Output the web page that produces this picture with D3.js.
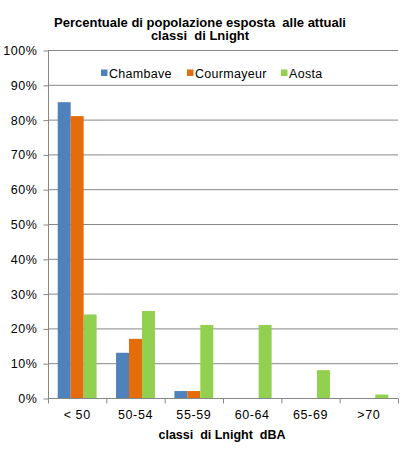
<!DOCTYPE html>
<html>
<head>
<meta charset="utf-8">
<script src="https://cdn.jsdelivr.net/npm/d3@7"></script>
<style>
  body { margin: 0; background: #fff; }
  text { font-family: Arial, "Liberation Sans", sans-serif; }
</style>
</head>
<body>
<div id="chart"></div>
<script>
let categories = ["< 50", "50-54", "55-59", "60-64", "65-69", ">70"];
let seriesNames = ["Chambave", "Courmayeur", "Aosta"];
let chambave = [85, 13, 2, 0, 0, 0];
let courmayeur = [81, 17, 2, 0, 0, 0];
let aosta = [24, 25, 21, 21, 8, 1];
let yTicks = [0, 10, 20, 30, 40, 50, 60, 70, 80, 90, 100];
let colors = ["#4F81BD", "#E46C0A", "#92D050"];

let width = 401,
  height = 459,
  plotLeft = 48,
  plotRight = 398,
  plotTop = 50,
  plotBottom = 398;

let seriesValues = [chambave, courmayeur, aosta];

let svg = d3
  .select("#chart")
  .append("svg")
  .attr("width", width)
  .attr("height", height);

let xScale = d3.scaleBand().domain(categories).range([plotLeft, plotRight]).paddingInner(0).paddingOuter(0);
let inner = d3
  .scaleBand()
  .domain(seriesNames)
  .range([0, xScale.bandwidth()])
  .paddingOuter(0.75)
  .paddingInner(0);

let yScale = d3.scaleLinear().domain([0, 100]).range([plotBottom, plotTop]);

// gridlines
svg
  .append("g")
  .selectAll("line")
  .data(yTicks.slice(1))
  .enter()
  .append("line")
  .attr("x1", plotLeft)
  .attr("x2", plotRight)
  .attr("y1", (d) => yScale(d) + 0.5)
  .attr("y2", (d) => yScale(d) + 0.5)
  .attr("stroke", "#878787")
  .attr("stroke-width", 1);

// bars
seriesValues.forEach((vals, s) => {
  svg
    .append("g")
    .selectAll("rect")
    .data(vals)
    .enter()
    .append("rect")
    .attr("x", (d, i) => xScale(categories[i]) + inner(seriesNames[s]))
    .attr("y", (d) => yScale(d))
    .attr("width", inner.bandwidth())
    .attr("height", (d) => plotBottom - yScale(d))
    .attr("fill", colors[s]);
});

// y axis
let yAxis = d3
  .axisLeft(yScale)
  .tickValues(yTicks)
  .tickSize(5)
  .tickPadding(6)
  .tickFormat((d) => d + "%");

let gy = svg
  .append("g")
  .attr("transform", "translate(" + (plotLeft + 0.5) + ",0.5)")
  .call(yAxis);
gy.select(".domain").attr("stroke", "#878787").attr("d", "M0," + plotTop + "V" + plotBottom);
gy.selectAll(".tick line").attr("stroke", "#878787");
gy.selectAll(".tick text")
  .attr("font-size", 12.5)
  .attr("fill", "#000")
  .attr("font-family", "Arial, 'Liberation Sans', sans-serif")
  .style("letter-spacing", "0.6px");

// x axis
let xAxis = d3.axisBottom(xScale).tickSize(0).tickPadding(12);
let gx = svg
  .append("g")
  .attr("transform", "translate(0," + (plotBottom + 0.5) + ")")
  .call(xAxis);
gx.select(".domain").attr("stroke", "#878787").attr("d", "M" + plotLeft + ",0H" + plotRight);
gx.selectAll(".tick text")
  .attr("font-size", 12.5)
  .attr("fill", "#000")
  .attr("font-family", "Arial, 'Liberation Sans', sans-serif")
  .style("letter-spacing", "0.6px");

// category boundary ticks
gx.append("g")
  .selectAll("line")
  .data(categories.concat(["end"]))
  .enter()
  .append("line")
  .attr("x1", (d, i) => (i < categories.length ? xScale(d) : plotRight) + 0.5)
  .attr("x2", (d, i) => (i < categories.length ? xScale(d) : plotRight) + 0.5)
  .attr("y1", 0)
  .attr("y2", 5)
  .attr("stroke", "#878787");

// title
let title = svg
  .append("text")
  .attr("x", 200)
  .attr("y", 26.5)
  .attr("text-anchor", "middle")
  .attr("font-size", 13)
  .attr("font-weight", "bold")
  .style("white-space", "pre");
title.append("tspan").attr("x", 200).text("Percentuale di popolazione esposta  alle attuali");
title.append("tspan").attr("x", 200).attr("dy", 13.5).text("classi  di Lnight");

// x axis title
svg
  .append("text")
  .attr("x", 222)
  .attr("y", 438.5)
  .attr("text-anchor", "middle")
  .attr("font-size", 12.5)
  .attr("font-weight", "bold")
  .style("white-space", "pre")
  .text("classi  di Lnight  dBA");

// legend
let legendX = [101, 187, 281];
let legend = svg
  .append("g")
  .selectAll("g")
  .data(seriesNames)
  .enter()
  .append("g")
  .attr("transform", (d, i) => "translate(" + legendX[i] + ",73)");
legend
  .append("rect")
  .attr("x", 0)
  .attr("y", -3.5)
  .attr("width", 6.5)
  .attr("height", 6.5)
  .attr("fill", (d, i) => colors[i]);
legend
  .append("text")
  .attr("x", 8)
  .attr("y", 4.5)
  .attr("font-size", 12.5)
  .style("letter-spacing", "0.3px")
  .text((d) => d);
</script>
</body>
</html>
